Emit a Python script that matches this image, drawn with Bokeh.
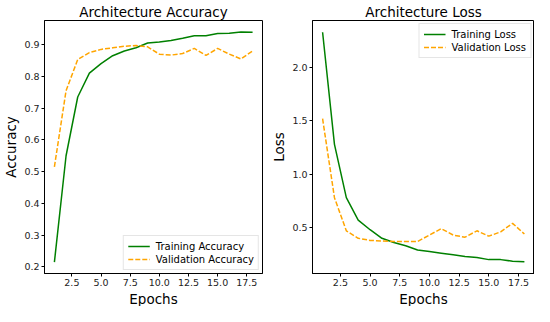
from bokeh.plotting import figure
from bokeh.layouts import row
from bokeh.models import Range1d, FixedTicker, PrintfTickFormatter, Legend, Title
from bokeh.embed import file_html
from bokeh.resources import INLINE

epochs = list(range(1, 19))
train_acc = [0.215, 0.55, 0.735, 0.81, 0.84, 0.865, 0.88, 0.89, 0.905, 0.908,
             0.913, 0.92, 0.928, 0.928, 0.935, 0.936, 0.94, 0.939]
val_acc = [0.515, 0.755, 0.853, 0.875, 0.885, 0.89, 0.895, 0.897, 0.893, 0.87,
           0.867, 0.872, 0.888, 0.866, 0.888, 0.87, 0.855, 0.88]
train_loss = [2.33, 1.28, 0.78, 0.57, 0.48, 0.40, 0.36, 0.33, 0.29, 0.275,
              0.26, 0.245, 0.23, 0.22, 0.20, 0.20, 0.185, 0.18]
val_loss = [1.52, 0.78, 0.47, 0.40, 0.38, 0.375, 0.37, 0.37, 0.37, 0.43,
            0.49, 0.43, 0.41, 0.47, 0.42, 0.46, 0.54, 0.44]
x_ticks = [2.5, 5.0, 7.5, 10.0, 12.5, 15.0, 17.5]
acc_ticks = [0.2, 0.3, 0.4, 0.5, 0.6, 0.7, 0.8, 0.9]
loss_ticks = [0.5, 1.0, 1.5, 2.0]
x_label = "Epochs"

FONT = "DejaVu Sans"
X_MIN, X_MAX = 0.15, 18.85


def style(p, yticks, ylabel):
    p.title.text_font = FONT
    p.title.text_font_size = "13.5px"
    p.title.text_font_style = "normal"
    p.title.align = "center"
    p.title.text_color = "black"
    p.title.standoff = 2
    p.title.offset = 0
    p.outline_line_color = "black"
    p.outline_line_width = 1
    p.xgrid.visible = False
    p.ygrid.visible = False
    p.xaxis.ticker = FixedTicker(ticks=x_ticks)
    p.yaxis.ticker = FixedTicker(ticks=yticks)
    p.xaxis.formatter = PrintfTickFormatter(format="%.1f")
    p.yaxis.formatter = PrintfTickFormatter(format="%.1f")
    p.yaxis.axis_label = ylabel
    for ax in (p.xaxis[0], p.yaxis[0]):
        ax.axis_label_text_font = FONT
        ax.axis_label_text_font_size = "13.5px"
        ax.axis_label_text_font_style = "normal"
        ax.axis_label_text_color = "black"
        ax.major_label_text_font = FONT
        ax.major_label_text_font_size = "9.5px"
        ax.major_label_text_color = "#222222"
        ax.major_tick_out = 3
        ax.major_tick_in = 0
        ax.minor_tick_out = 0
        ax.minor_tick_in = 0
        ax.major_label_standoff = 2
        ax.axis_label_standoff = 2
        ax.axis_line_color = "black"
        ax.major_tick_line_color = "black"
    # x-axis title placed below the tick labels
    p.add_layout(Title(text=x_label, align="center", text_font=FONT,
                       text_font_size="13.5px", text_font_style="normal",
                       text_color="black", standoff=0, offset=0), "below")


p1 = figure(width=268, height=306, output_backend="svg", toolbar_location=None,
            title="Architecture Accuracy",
            x_range=Range1d(X_MIN, X_MAX), y_range=Range1d(0.179, 0.976),
            min_border_left=30, min_border_right=6, min_border_top=0, min_border_bottom=0)
style(p1, acc_ticks, "Accuracy")
r1 = p1.line(epochs, train_acc, line_color="green", line_width=1.5)
r2 = p1.line(epochs, val_acc, line_color="orange", line_width=1.5, line_dash="5 2")
leg1 = Legend(items=[("Training Accuracy", [r1]), ("Validation Accuracy", [r2])],
              location="bottom_right")
p1.add_layout(leg1)

p2 = figure(width=266, height=306, output_backend="svg", toolbar_location=None,
            title="Architecture Loss",
            x_range=Range1d(X_MIN, X_MAX), y_range=Range1d(0.07, 2.44),
            min_border_left=41, min_border_right=0, min_border_top=0, min_border_bottom=0)
style(p2, loss_ticks, "Loss")
r3 = p2.line(epochs, train_loss, line_color="green", line_width=1.5)
r4 = p2.line(epochs, val_loss, line_color="orange", line_width=1.5, line_dash="5 2")
leg2 = Legend(items=[("Training Loss", [r3]), ("Validation Loss", [r4])],
              location="top_right")
p2.add_layout(leg2)

for lg in (leg1, leg2):
    lg.label_text_font = FONT
    lg.label_text_font_size = "10px"
    lg.label_text_color = "black"
    lg.border_line_color = "#cccccc"
    lg.border_line_width = 1
    lg.background_fill_alpha = 0.8
    lg.glyph_width = 22
    lg.glyph_height = 12
    lg.label_height = 12
    lg.spacing = 1
    lg.padding = 4
    lg.margin = 3
    lg.label_standoff = 6

layout = row(p1, p2)
open("out.html", "w").write(file_html(layout, INLINE))
